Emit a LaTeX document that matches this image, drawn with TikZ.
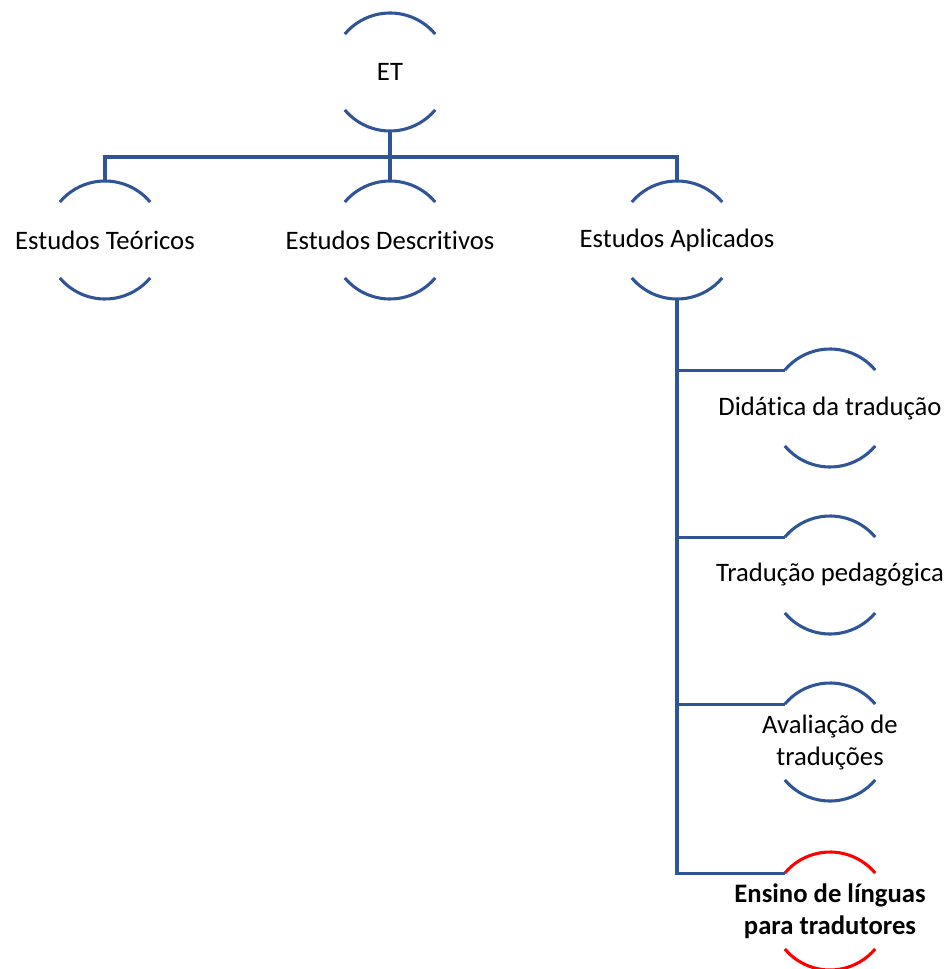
\documentclass[tikz,border=0pt]{standalone}
\usepackage{fontspec}
\setmainfont[Ligatures=NoCommon]{Carlito}
\definecolor{lineblue}{RGB}{47,85,151}
\definecolor{accentred}{RGB}{255,0,0}
\tikzset{
  circ/.style={circle, minimum size=88.5pt, inner sep=0pt, outer sep=0pt},
  lbl/.style={font=\fontsize{20}{24}\selectfont, align=center, inner sep=0pt, text=black},
  conn/.style={draw=lineblue, line width=2.3pt},
}
\newcommand{\arcpair}[2]{%
  \draw[#2, line width=2.3pt] (#1.40) arc[start angle=40, end angle=140, radius=44.25pt];
  \draw[#2, line width=2.3pt] (#1.220) arc[start angle=220, end angle=320, radius=44.25pt];
}
\begin{document}
\begin{tikzpicture}[x=0.75pt, y=-0.75pt]
\useasboundingbox (0,0) rectangle (949,969);
% circle holders
\node[circ] (et)  at (390,72) {};
\node[circ] (teo) at (105,240) {};
\node[circ] (des) at (390,240) {};
\node[circ] (apl) at (677,240) {};
\node[circ] (did) at (830,408) {};
\node[circ] (ped) at (830,575) {};
\node[circ] (ava) at (830,742) {};
\node[circ] (ens) at (830,911) {};
% arcs
\arcpair{et}{lineblue}
\arcpair{teo}{lineblue}
\arcpair{des}{lineblue}
\arcpair{apl}{lineblue}
\arcpair{did}{lineblue}
\arcpair{ped}{lineblue}
\arcpair{ava}{lineblue}
\arcpair{ens}{accentred}
% labels
\node[lbl] (et-t)  at (et)  {ET};
\node[lbl] (teo-t) at (teo) {Estudos Teóricos};
\node[lbl] (des-t) at (des) {Estudos Descritivos};
\node[lbl] (apl-t) at (apl) {Estudos Aplicados};
\node[lbl] (did-t) at (did) {Didática da tradução};
\node[lbl] (ped-t) at (ped) {Tradução pedagógica};
\node[lbl] (ava-t) at (ava) {Avaliação de\\traduções};
\node[lbl, font=\fontsize{20}{24}\selectfont\bfseries] (ens-t) at (ens) {Ensino de línguas\\para tradutores};
% connectors
\coordinate (bus) at (390,157);
\draw[conn] (et.south) -- (bus);
\draw[conn] (teo.north) |- (bus);
\draw[conn] (des.north) -- (bus);
\draw[conn] (apl.north) |- (bus);
\draw[conn] (apl.south) |- (did.140);
\draw[conn] (apl.south) |- (ped.140);
\draw[conn] (apl.south) |- (ava.140);
\draw[conn] (apl.south) |- (ens.140);
\end{tikzpicture}
\end{document}
